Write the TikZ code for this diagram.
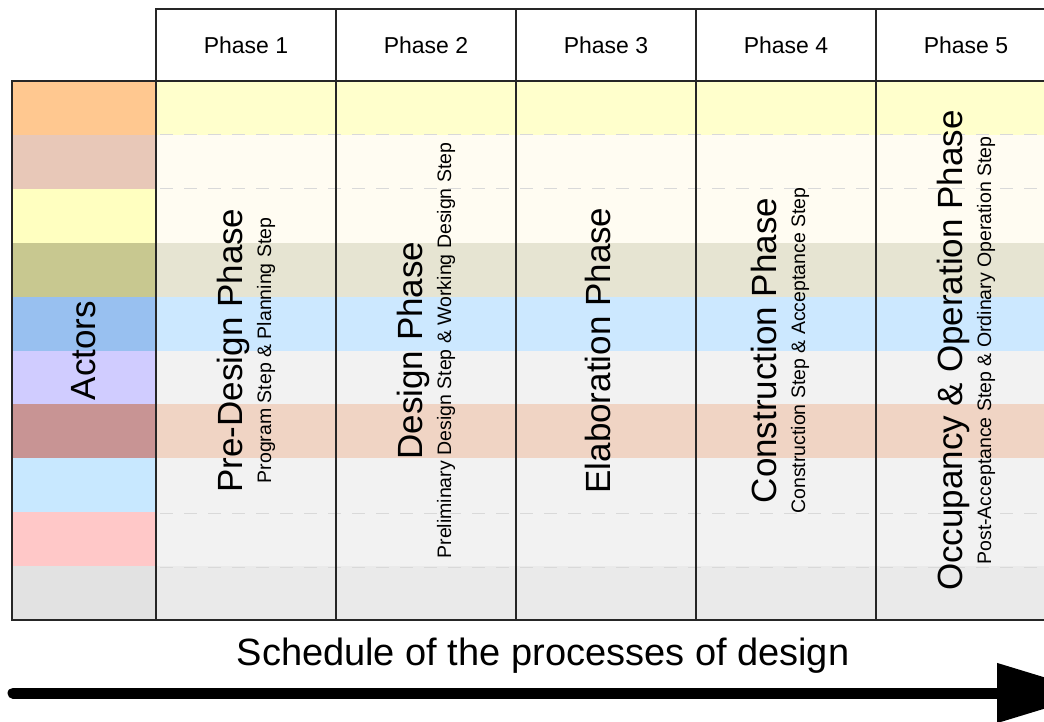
\documentclass[tikz,border=0pt]{standalone}
\usepackage{fontspec}
\setmainfont{Liberation Sans}
\usepackage{xcolor}
\usetikzlibrary{arrows.meta}

\definecolor{actA}{HTML}{FFC890}
\definecolor{actB}{HTML}{E8C8B8}
\definecolor{actC}{HTML}{FFFFC0}
\definecolor{actD}{HTML}{C8C890}
\definecolor{actE}{HTML}{98C0F0}
\definecolor{actF}{HTML}{D0CCFF}
\definecolor{actG}{HTML}{C89494}
\definecolor{actH}{HTML}{C8E8FF}
\definecolor{actI}{HTML}{FFC8C8}
\definecolor{actJ}{HTML}{E2E2E2}
\definecolor{rowA}{HTML}{FFFFCC}
\definecolor{rowB}{HTML}{FFFCF2}
\definecolor{rowD}{HTML}{E6E4D2}
\definecolor{rowE}{HTML}{CCE8FF}
\definecolor{rowF}{HTML}{F2F2F2}
\definecolor{rowG}{HTML}{F0D4C4}
\definecolor{rowJ}{HTML}{EAEAEA}

\newcommand{\phasefont}{\fontsize{35}{40}\selectfont}
\newcommand{\stepfont}{\fontsize{19.5}{29}\selectfont}

\begin{document}
\begin{tikzpicture}[
  x=1pt, y=-1pt,
  grid/.style={draw=black!85, line width=1.6pt},
  head/.style={grid, fill=white, minimum width=180pt, minimum height=72pt,
               inner sep=0pt, font=\fontsize{23}{27}\selectfont},
  col/.style={grid, minimum width=180pt, minimum height=539pt, inner sep=0pt},
  title/.style={rotate=90, align=center, inner sep=0pt, font=\stepfont},
  sep/.style={draw=black!15, line width=1pt, dash pattern=on 13pt off 11pt},
  timeline/.style={line width=11pt, line cap=round, -{Triangle[length=100pt,width=57pt]}}
]
\clip (0,0) rectangle (1044,722);
\fill[white] (0,0) rectangle (1044,722);

% colour bands, actor column and phase columns
\foreach \r/\ca/\cp in {0/actA/rowA, 1/actB/rowB, 2/actC/rowB, 3/actD/rowD, 4/actE/rowE,
                        5/actF/rowF, 6/actG/rowG, 7/actH/rowF, 8/actI/rowF, 9/actJ/rowJ} {
  \fill[\ca] (12,{81+53.9*\r}) rectangle (156,{81+53.9*(\r+1)});
  \fill[\cp] (156,{81+53.9*\r}) rectangle (1056,{81+53.9*(\r+1)});
}
\foreach \y in {135,189,513,567}
  \draw[sep] (160,\y) -- (1056,\y);

\node[col, minimum width=144pt] (act) at (84,350.5) {};
\node[col] (c1) at (246,350.5) {};
\node[col] (c2) at (426,350.5) {};
\node[col] (c3) at (606,350.5) {};
\node[col] (c4) at (786,350.5) {};
\node[col] (c5) at (966,350.5) {};

\node[head] (h1) at (246,45) {Phase 1};
\node[head] (h2) at (426,45) {Phase 2};
\node[head] (h3) at (606,45) {Phase 3};
\node[head] (h4) at (786,45) {Phase 4};
\node[head] (h5) at (966,45) {Phase 5};

\node[title] (actors) at (act) {\phasefont Actors};
\node[title] (t1) at (c1) {{\phasefont Pre-Design Phase}\\Program Step \& Planning Step};
\node[title] (t2) at (c2) {{\phasefont Design Phase}\\Preliminary Design Step \& Working Design Step};
\node[title] (t3) at ([xshift=-8pt]c3) {\phasefont Elaboration Phase};
\node[title] (t4) at ([xshift=-6pt]c4) {{\phasefont Construction Phase}\\Construction Step \& Acceptance Step};
\node[title] (t5) at (c5) {{\phasefont Occupancy \& Operation Phase}\\Post-Acceptance Step \& Ordinary Operation Step};

% time axis
\node[inner sep=0pt, font=\fontsize{38}{44}\selectfont] (sched) at (543,656) {Schedule of the processes of design};
\coordinate (tl) at (13,693);
\coordinate (tr) at (1097,693);
\draw[timeline] (tl) -- (tr);
\end{tikzpicture}
\end{document}
